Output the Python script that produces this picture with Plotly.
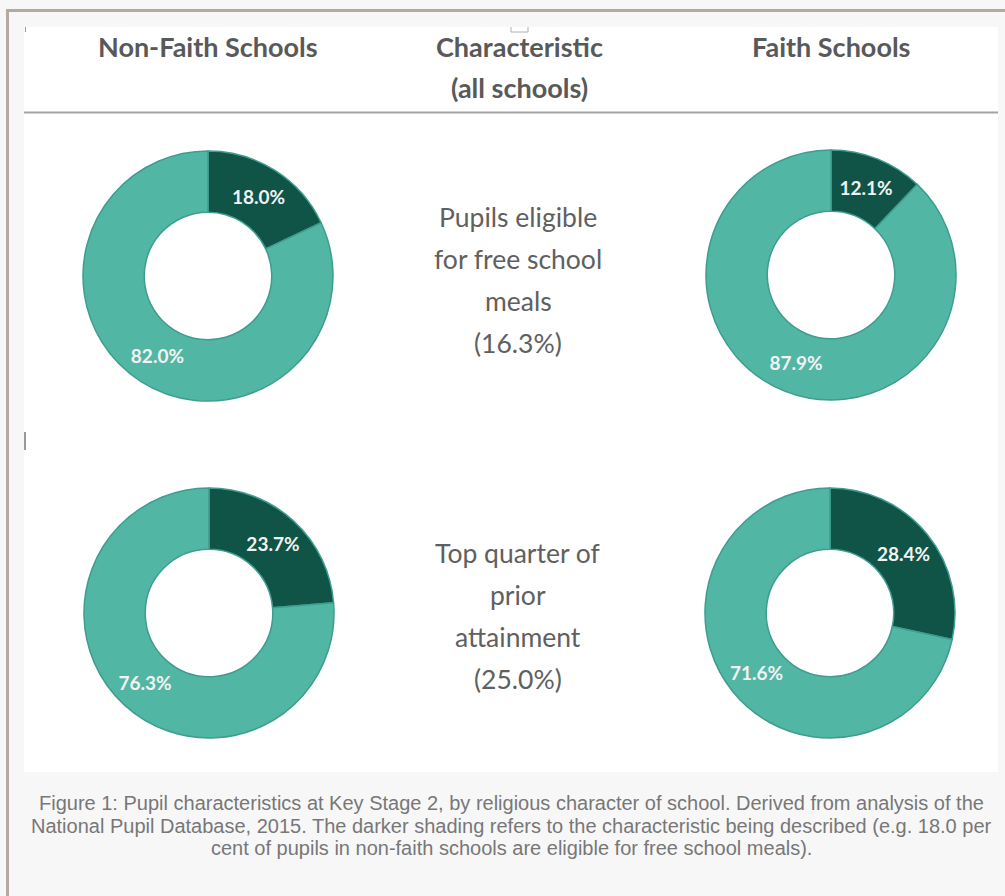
import plotly.graph_objects as go

# ---- data ----
groups = ["Non-Faith Schools", "Faith Schools"]
characteristics = [
    ["Pupils eligible", "for free school", "meals", "(16.3%)"],
    ["Top quarter of", "prior", "attainment", "(25.0%)"],
]
slice_names = ["Characteristic", "Other pupils"]
fsm_non_faith = [18.0, 82.0]
fsm_faith = [12.1, 87.9]
top_non_faith = [23.7, 76.3]
top_faith = [28.4, 71.6]
caption_lines = [
    "Figure 1: Pupil characteristics at Key Stage 2, by religious character of school. Derived from analysis of the",
    "National Pupil Database, 2015. The darker shading refers to the characteristic being described (e.g. 18.0 per",
    "cent of pupils in non-faith schools are eligible for free school meals).",
]

W, H = 1005, 896
DARK = "#0f5446"
LIGHT = "#52b6a5"
EDGE = "#3e9d8e"
HEAD_FONT = "Lato"


def px(x):
    return x / W


def py(y):
    return 1 - y / H


fig = go.Figure()

# donut rings: (values, centre x, centre y)
rings = [
    (fsm_non_faith, 208, 276),
    (fsm_faith, 831, 275),
    (top_non_faith, 209, 613),
    (top_faith, 830, 613),
]
R = 125
for vals, cx, cy in rings:
    fig.add_trace(go.Pie(
        labels=slice_names,
        values=vals,
        hole=0.51,
        sort=False,
        direction="clockwise",
        rotation=0,
        marker=dict(colors=[DARK, LIGHT], line=dict(color=EDGE, width=1.5)),
        texttemplate="%{value:.1f}%",
        textposition="inside",
        insidetextorientation="horizontal",
        textfont=dict(family=HEAD_FONT, size=19, color="#f2f2f2", weight="bold"),
        domain=dict(x=[px(cx - R), px(cx + R)], y=[py(cy + R), py(cy - R)]),
        showlegend=False,
        hoverinfo="label+value",
    ))

shapes = []
# white picture area
shapes.append(dict(type="rect", xref="paper", yref="paper",
                   x0=px(24), x1=px(998), y0=py(772), y1=py(27),
                   fillcolor="white", line=dict(width=0), layer="below"))
# frame lines
shapes.append(dict(type="line", xref="paper", yref="paper",
                   x0=px(6), x1=px(W), y0=py(10.5), y1=py(10.5),
                   line=dict(color="#b4aa9d", width=3)))
shapes.append(dict(type="line", xref="paper", yref="paper",
                   x0=px(7.5), x1=px(7.5), y0=py(9), y1=py(H),
                   line=dict(color="#b4aa9d", width=3)))
# header rule
shapes.append(dict(type="line", xref="paper", yref="paper",
                   x0=px(24), x1=px(998), y0=py(112.5), y1=py(112.5),
                   line=dict(color="#a3a3a3", width=2)))
# small marks
shapes.append(dict(type="line", xref="paper", yref="paper",
                   x0=px(25), x1=px(25), y0=py(432), y1=py(450),
                   line=dict(color="#9a9a9a", width=2)))
shapes.append(dict(type="line", xref="paper", yref="paper",
                   x0=px(25.5), x1=px(25.5), y0=py(27), y1=py(32),
                   line=dict(color="#9a9a9a", width=1)))
shapes.append(dict(type="path", xref="paper", yref="paper",
                   path=f"M {px(511)} {py(27)} L {px(511)} {py(32)} L {px(528)} {py(32)} L {px(528)} {py(27)}",
                   line=dict(color="#b0b0b0", width=1)))

annotations = []
head_style = dict(family=HEAD_FONT, size=27, color="#595959", weight="bold")
for text, x, y in [(groups[0], 208, 47), ("Characteristic", 519, 47),
                   ("(all schools)", 519, 88), (groups[1], 831, 47)]:
    annotations.append(dict(text=text, x=px(x), y=py(y), xref="paper", yref="paper",
                            xanchor="center", yanchor="middle", showarrow=False,
                            font=head_style))

body_style = dict(family=HEAD_FONT, size=26.5, color="#606060")
for lines, y0 in zip(characteristics, [217, 553]):
    for i, line in enumerate(lines):
        annotations.append(dict(text=line, x=px(518), y=py(y0 + 42 * i),
                                xref="paper", yref="paper",
                                xanchor="center", yanchor="middle", showarrow=False,
                                font=body_style))

cap_style = dict(family="Liberation Sans", size=20, color="#777777")
for i, line in enumerate(caption_lines):
    annotations.append(dict(text=line, x=px(511), y=py(803 + 22.7 * i),
                            xref="paper", yref="paper",
                            xanchor="center", yanchor="middle", showarrow=False,
                            font=cap_style))

fig.update_layout(
    width=W, height=H,
    margin=dict(l=0, r=0, t=0, b=0),
    paper_bgcolor="#f7f7f7",
    plot_bgcolor="#f7f7f7",
    shapes=shapes,
    annotations=annotations,
    uniformtext=dict(minsize=19, mode="show"),
)

fig.write_html("out.html")
